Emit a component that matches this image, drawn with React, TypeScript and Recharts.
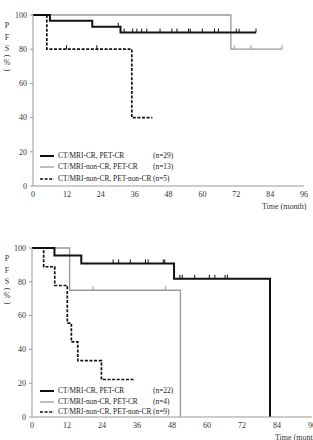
import React from "react";
import { LineChart, Line, XAxis, YAxis } from "recharts";

type Pt = { t: number; s: number; c?: boolean };

const MONTH_TICKS = [0, 12, 24, 36, 48, 60, 72, 84, 96];
const PFS_TICKS = [0, 20, 40, 60, 80, 100];

const GROUPS = [
  "CT/MRI-CR, PET-CR",
  "CT/MRI-non-CR, PET-CR",
  "CT/MRI-non-CR, PET-non-CR",
];
const COUNTS_A = ["(n=29)", "(n=13)", "(n=5)"];
const COUNTS_B = ["(n=22)", "(n=4)", "(n=9)"];

// upper panel
const crCrA: Pt[] = [
  { t: 0, s: 100 },
  { t: 6, s: 96.6 },
  { t: 21, s: 93.1 },
  { t: 30.2, s: 93.1, c: true },
  { t: 31, s: 89.7 },
  { t: 32.3, s: 89.7, c: true },
  { t: 35.3, s: 89.7, c: true },
  { t: 36.8, s: 89.7, c: true },
  { t: 38.5, s: 89.7, c: true },
  { t: 40.3, s: 89.7, c: true },
  { t: 45, s: 89.7, c: true },
  { t: 49.2, s: 89.7, c: true },
  { t: 51, s: 89.7, c: true },
  { t: 55.1, s: 89.7, c: true },
  { t: 55.7, s: 89.7, c: true },
  { t: 60, s: 89.7, c: true },
  { t: 64.3, s: 89.7, c: true },
  { t: 65.7, s: 89.7, c: true },
  { t: 72, s: 89.7, c: true },
  { t: 73, s: 89.7, c: true },
  { t: 79, s: 89.7, c: true },
];
const nonCrCrA: Pt[] = [
  { t: 0, s: 100 },
  { t: 70.1, s: 80 },
  { t: 71.3, s: 80, c: true },
  { t: 77.2, s: 80, c: true },
  { t: 88.2, s: 80, c: true },
];
const nonCrNonCrA: Pt[] = [
  { t: 0, s: 100 },
  { t: 4.9, s: 80 },
  { t: 11.9, s: 80, c: true },
  { t: 22.6, s: 80, c: true },
  { t: 35, s: 40 },
  { t: 42.3, s: 40 },
];

// lower panel
const crCrB: Pt[] = [
  { t: 0, s: 100 },
  { t: 7.7, s: 95.5 },
  { t: 16.9, s: 90.9 },
  { t: 27.8, s: 90.9, c: true },
  { t: 29.7, s: 90.9, c: true },
  { t: 33.7, s: 90.9, c: true },
  { t: 38.9, s: 90.9, c: true },
  { t: 39.8, s: 90.9, c: true },
  { t: 45, s: 90.9, c: true },
  { t: 45.5, s: 90.9, c: true },
  { t: 48.7, s: 81.8 },
  { t: 50.7, s: 81.8, c: true },
  { t: 51.5, s: 81.8, c: true },
  { t: 55.8, s: 81.8, c: true },
  { t: 60.8, s: 81.8, c: true },
  { t: 62.7, s: 81.8, c: true },
  { t: 66.2, s: 81.8, c: true },
  { t: 67, s: 81.8, c: true },
  { t: 81.6, s: 0 },
];
const nonCrCrB: Pt[] = [
  { t: 0, s: 100 },
  { t: 12.9, s: 75 },
  { t: 20.9, s: 75, c: true },
  { t: 45.8, s: 75, c: true },
  { t: 50.9, s: 0 },
];
const nonCrNonCrB: Pt[] = [
  { t: 0, s: 100 },
  { t: 4, s: 88.9 },
  { t: 7.8, s: 77.8 },
  { t: 12.1, s: 55.6 },
  { t: 13.5, s: 44.4 },
  { t: 15.7, s: 33.3 },
  { t: 23.8, s: 22.2 },
  { t: 35, s: 22.2 },
];

const FONT = "'Liberation Serif', 'DejaVu Serif', serif";
const TICK = { fontSize: 8, fill: "#333", fontFamily: FONT };

const STYLES = [
  { stroke: "#111", width: 2, dash: undefined as string | undefined },
  { stroke: "#999", width: 1.3, dash: undefined as string | undefined },
  { stroke: "#111", width: 1.7, dash: "3 1.6" },
];

// censored cases get a short upward tick
const censorMark = (props: any) => {
  const { cx, cy, payload, index, stroke } = props;
  if (!payload || !payload.c) return <g key={`n${index}`} />;
  return (
    <line
      key={`c${index}`}
      x1={cx}
      x2={cx}
      y1={cy}
      y2={cy - 4}
      stroke={stroke}
      strokeWidth={1}
    />
  );
};

function YTitle({ top }: { top: number }) {
  const rows = [
    { ch: "P", dy: 10.5, rot: 0 },
    { ch: "F", dy: 22.5, rot: 0 },
    { ch: "S", dy: 34, rot: 0 },
    { ch: "(", dy: 40.5, rot: 90 },
    { ch: "%", dy: 47.5, rot: 0 },
    { ch: ")", dy: 54.7, rot: 90 },
  ];
  return (
    <>
      {rows.map((r) => (
        <div
          key={r.ch}
          style={{
            position: "absolute",
            left: 2,
            width: 10,
            top: top + r.dy - 5,
            height: 10,
            lineHeight: "10px",
            fontSize: 8,
            color: "#333",
            textAlign: "center",
            transform: r.rot ? `rotate(${r.rot}deg)` : undefined,
          }}
        >
          {r.ch}
        </div>
      ))}
    </>
  );
}

function KeyBox({ rows, counts }: { rows: number[]; counts: string[] }) {
  return (
    <>
      {GROUPS.map((g, i) => (
        <React.Fragment key={g}>
          <svg
            style={{ position: "absolute", left: 40, top: rows[i] - 3 }}
            width={14}
            height={6}
          >
            <line
              x1={0}
              x2={14}
              y1={3}
              y2={3}
              stroke={STYLES[i].stroke}
              strokeWidth={STYLES[i].width}
              strokeDasharray={STYLES[i].dash}
            />
          </svg>
          <div
            style={{
              position: "absolute",
              left: 58,
              top: rows[i] - 5,
              lineHeight: "10px",
              fontSize: 7.4,
              color: "#222",
              whiteSpace: "nowrap",
            }}
          >
            {g}
          </div>
          <div
            style={{
              position: "absolute",
              left: 153,
              top: rows[i] - 5,
              lineHeight: "10px",
              fontSize: 7.4,
              color: "#222",
              whiteSpace: "nowrap",
            }}
          >
            {counts[i]}
          </div>
        </React.Fragment>
      ))}
    </>
  );
}

function Panel({
  series,
  width,
  height,
  margin,
  yWidth,
}: {
  series: Pt[][];
  width: number;
  height: number;
  margin: { top: number; right: number; bottom: number; left: number };
  yWidth: number;
}) {
  const order = [1, 0, 2];
  return (
    <LineChart width={width} height={height} margin={margin}>
      <XAxis
        type="number"
        dataKey="t"
        domain={[0, 96]}
        ticks={MONTH_TICKS}
        interval={0}
        height={20}
        tick={TICK}
        tickLine={false}
        tickSize={3}
        tickMargin={2}
        stroke="#999"
        allowDataOverflow
      />
      <YAxis
        type="number"
        dataKey="s"
        domain={[0, 100]}
        ticks={PFS_TICKS}
        interval={0}
        width={yWidth}
        tick={TICK}
        tickSize={3}
        tickMargin={3}
        stroke="#999"
      />
      {order.map((i) => (
        <Line
          key={i}
          data={series[i]}
          dataKey="s"
          type="stepAfter"
          stroke={STYLES[i].stroke}
          strokeWidth={STYLES[i].width}
          strokeDasharray={STYLES[i].dash}
          dot={censorMark}
          activeDot={false}
          isAnimationActive={false}
        />
      ))}
    </LineChart>
  );
}

export default function App() {
  return (
    <div
      style={{
        position: "absolute",
        left: 0,
        top: 0,
        width: 313,
        height: 440,
        overflow: "hidden",
        background: "#fff",
        fontFamily: FONT,
      }}
    >
      <div style={{ position: "absolute", left: 0, top: 0 }}>
        <Panel
          series={[crCrA, nonCrCrA, nonCrNonCrA]}
          width={313}
          height={215}
          margin={{ top: 15, right: 9, bottom: 9, left: 0 }}
          yWidth={33}
        />
      </div>
      <YTitle top={15} />
      <KeyBox rows={[155.5, 167, 178.5]} counts={COUNTS_A} />
      <div
        style={{
          position: "absolute",
          left: 262,
          top: 202,
          fontSize: 8,
          lineHeight: "10px",
          color: "#333",
          whiteSpace: "nowrap",
        }}
      >
        Time (month)
      </div>

      <div style={{ position: "absolute", left: 0, top: 233 }}>
        <Panel
          series={[crCrB, nonCrCrB, nonCrNonCrB]}
          width={313}
          height={207}
          margin={{ top: 15, right: 1, bottom: 3, left: 0 }}
          yWidth={32}
        />
      </div>
      <YTitle top={248} />
      <KeyBox rows={[391, 401.5, 411.5]} counts={COUNTS_B} />
      <div
        style={{
          position: "absolute",
          left: 275,
          top: 433,
          fontSize: 8,
          lineHeight: "10px",
          color: "#333",
          whiteSpace: "nowrap",
        }}
      >
        Time (month)
      </div>
    </div>
  );
}
